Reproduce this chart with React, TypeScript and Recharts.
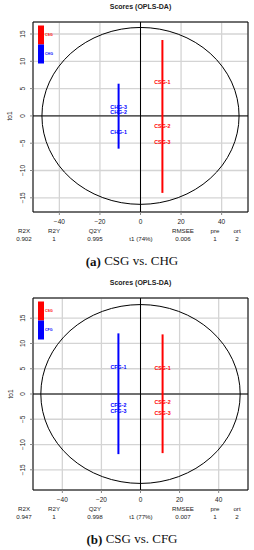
import React from 'react';
import { ScatterChart, Scatter, XAxis, YAxis, CartesianGrid, ReferenceLine, ReferenceArea } from 'recharts';

const xTicks = [-40, -20, 0, 20, 40];
const yTicks = [-15, -10, -5, 0, 5, 10, 15];
const statNames = ['R2X', 'R2Y', 'Q2Y', 'RMSEE', 'pre', 'ort'];

// (a) CSG vs. CHG
const aGroups = ['CSG', 'CHG'];
const aCsgNames = ['CSG-1', 'CSG-2', 'CSG-3'];
const aCsgT1 = [10.8, 10.8, 10.8];
const aCsgTo1 = [6.2, -1.8, -4.8];
const aChgNames = ['CHG-1', 'CHG-2', 'CHG-3'];
const aChgT1 = [-10.8, -10.8, -10.8];
const aChgTo1 = [-2.9, 0.7, 1.7];
const aCsgRange = [13.9, -14.1];
const aChgRange = [5.9, -6.0];
const aEllipse = [48.6, 16.2];
const aStats = ['0.902', '1', '0.995', '0.006', '1', '2'];
const aT1Label = 't1 (74%)';

// (b) CSG vs. CFG
const bGroups = ['CSG', 'CFG'];
const bCsgNames = ['CSG-1', 'CSG-2', 'CSG-3'];
const bCsgT1 = [11.3, 11.3, 11.3];
const bCsgTo1 = [5.2, -1.6, -3.8];
const bCfgNames = ['CFG-1', 'CFG-2', 'CFG-3'];
const bCfgT1 = [-11.3, -11.3, -11.3];
const bCfgTo1 = [5.4, -2.2, -3.4];
const bCsgRange = [11.8, -11.7];
const bCfgRange = [12.0, -11.9];
const bEllipse = [51, 17.7];
const bStats = ['0.947', '1', '0.998', '0.007', '1', '2'];
const bT1Label = 't1 (77%)';

const RED = '#ff0000';
const BLUE = '#0000ff';
const FONT = '"Liberation Sans", Arial, sans-serif';
const STAT_X = [24, 54, 95, 183, 215, 237];

const fmt = (v: number) => (v < 0 ? `\u2212${-v}` : `${v}`);

const YTick = (p: any) => (
  <text x={p.x} y={p.y} transform={`rotate(-90 ${p.x} ${p.y})`} textAnchor="middle"
    fontSize={6.5} fill="#222" fontFamily={FONT}>
    {fmt(p.payload.value)}
  </text>
);

const LabelShape = (color: string) => (p: any) => (
  <text x={p.cx} y={p.cy} textAnchor="middle" dominantBaseline="central"
    fontSize={5.3} fontWeight="bold" fill={color} fontFamily={FONT}>
    {p.payload.name}
  </text>
);

const EllipseShape = (p: any) => (
  <ellipse cx={p.x + p.width / 2} cy={p.y + p.height / 2} rx={p.width / 2} ry={p.height / 2}
    fill="none" stroke="#000" strokeWidth={1} />
);

function Panel(props: any) {
  const { top, height, plotTop, plotBottom, xDomain, yDomain, cfg, caption } = props;
  const plotH = plotBottom - plotTop;
  const zeroY = plotTop + (yDomain[1] / (yDomain[1] - yDomain[0])) * plotH;
  const rows = cfg.series.map((s: any) => s.names.map((n: string, i: number) => ({ x: s.t1[i], y: s.to1[i], name: n })));

  return (
    <div style={{ position: 'absolute', left: 0, top, width: 254, height }}>
      <ScatterChart width={254} height={height}
        margin={{ top: plotTop, right: 6, left: 0, bottom: height - plotBottom - 16 }}>
        <CartesianGrid stroke="#d4d4d4" strokeWidth={1.3} />
        <XAxis type="number" dataKey="x" domain={xDomain} ticks={xTicks} allowDataOverflow
          height={16} tickSize={3} tickMargin={4} axisLine={false}
          tickLine={{ stroke: '#888' }} tickFormatter={fmt}
          tick={{ fontSize: 6.5, fill: '#222', fontFamily: FONT }} />
        <YAxis type="number" dataKey="y" domain={yDomain} ticks={yTicks} allowDataOverflow
          width={33} tickSize={3} tickMargin={5} axisLine={false}
          tickLine={{ stroke: '#888' }} tick={<YTick />} />
        <ReferenceArea x1={-cfg.ellipse[0]} x2={cfg.ellipse[0]} y1={-cfg.ellipse[1]} y2={cfg.ellipse[1]}
          shape={<EllipseShape />} ifOverflow="visible" />
        <ReferenceLine x={0} stroke="#000" strokeWidth={1} />
        <ReferenceLine y={0} stroke="#000" strokeWidth={1} />
        {cfg.series.map((s: any) => (
          <ReferenceLine key={`seg-${s.group}`} stroke={s.color} strokeWidth={2}
            segment={[{ x: s.t1[0], y: s.range[0] }, { x: s.t1[0], y: s.range[1] }]} />
        ))}
        <ReferenceArea x1={xDomain[0]} x2={xDomain[1]} y1={yDomain[0]} y2={yDomain[1]}
          fill="none" fillOpacity={0} stroke="#000" strokeWidth={1} ifOverflow="visible" />
        {cfg.series.map((s: any, k: number) => (
          <Scatter key={s.group} name={s.group} data={rows[k]} shape={LabelShape(s.color)}
            isAnimationActive={false} />
        ))}
      </ScatterChart>
      <svg width={254} height={height} style={{ position: 'absolute', left: 0, top: 0, pointerEvents: 'none' }}
        fontFamily={FONT}>
        <text x={140.5} y={plotTop - 15.5} textAnchor="middle" dominantBaseline="central"
          fontSize={7} fontWeight="bold" fill="#222">Scores (OPLS-DA)</text>
        <text x={10} y={zeroY} transform={`rotate(-90 10 ${zeroY})`} textAnchor="middle"
          dominantBaseline="central" fontSize={6.5} fill="#222">to1</text>
        {cfg.series.map((s: any, k: number) => (
          <g key={`leg-${s.group}`}>
            <rect x={38} y={plotTop + 3.5 + k * 19} width={6} height={19} fill={s.color} />
            <text x={45} y={plotTop + 3.5 + k * 19 + 9.5} dominantBaseline="central"
              fontSize={3.6} fontWeight="bold" fill={s.color}>{s.group}</text>
          </g>
        ))}
        {statNames.map((n, i) => (
          <g key={n}>
            <text x={STAT_X[i]} y={plotBottom + 18.5} textAnchor="middle" dominantBaseline="central"
              fontSize={6.2} fill="#222">{n}</text>
            <text x={STAT_X[i]} y={plotBottom + 26.5} textAnchor="middle" dominantBaseline="central"
              fontSize={6.2} fill="#222">{cfg.stats[i]}</text>
          </g>
        ))}
        <text x={141} y={plotBottom + 26.5} textAnchor="middle" dominantBaseline="central"
          fontSize={6.2} fill="#222">{cfg.t1Label}</text>
        <text x={132} y={plotBottom + 48.5} textAnchor="middle" dominantBaseline="central"
          fontSize={13} fill="#111" fontFamily='"Liberation Serif", "Times New Roman", serif'>
          <tspan fontWeight="bold">{caption[0]}</tspan> {caption[1]}
        </text>
      </svg>
    </div>
  );
}

const panelA = {
  series: [
    { group: aGroups[0], color: RED, names: aCsgNames, t1: aCsgT1, to1: aCsgTo1, range: aCsgRange },
    { group: aGroups[1], color: BLUE, names: aChgNames, t1: aChgT1, to1: aChgTo1, range: aChgRange },
  ],
  ellipse: aEllipse,
  stats: aStats,
  t1Label: aT1Label,
};

const panelB = {
  series: [
    { group: bGroups[0], color: RED, names: bCsgNames, t1: bCsgT1, to1: bCsgTo1, range: bCsgRange },
    { group: bGroups[1], color: BLUE, names: bCfgNames, t1: bCfgT1, to1: bCfgTo1, range: bCfgRange },
  ],
  ellipse: bEllipse,
  stats: bStats,
  t1Label: bT1Label,
};

export default function App() {
  return (
    <div style={{ position: 'absolute', left: 0, top: 0, width: 254, height: 550, background: '#fff' }}>
      <Panel top={0} height={270} plotTop={22} plotBottom={212} xDomain={[-53, 53]} yDomain={[-17.6, 17.2]}
        cfg={panelA} caption={['(a)', 'CSG vs. CHG']} />
      <Panel top={270} height={280} plotTop={28} plotBottom={220} xDomain={[-55, 55]} yDomain={[-19, 19]}
        cfg={panelB} caption={['(b)', 'CSG vs. CFG']} />
    </div>
  );
}
